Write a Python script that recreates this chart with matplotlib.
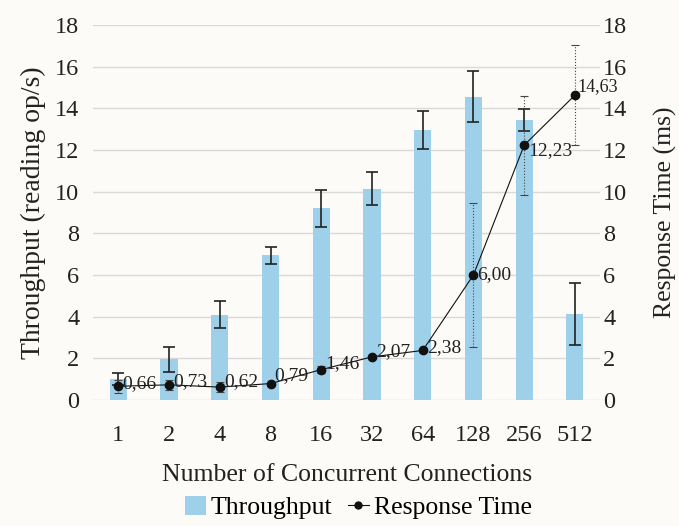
import matplotlib
matplotlib.use("Agg")
import matplotlib.pyplot as plt
import numpy as np
from matplotlib.lines import Line2D
from matplotlib.patches import Patch

plt.rcParams['font.family'] = ['Liberation Serif', 'DejaVu Serif']

categories = ["1", "2", "4", "8", "16", "32", "64", "128", "256", "512"]
throughput = [1.0, 1.95, 4.1, 6.95, 9.2, 10.15, 12.95, 14.55, 13.45, 4.13]
throughput_err = [0.3, 0.6, 0.65, 0.4, 0.9, 0.8, 0.9, 1.23, 0.52, 1.48]
response = [0.66, 0.73, 0.62, 0.79, 1.46, 2.07, 2.38, 6.00, 12.23, 14.63]
response_err = [0.3, 0.25, 0.25, 0.05, 0.15, 0.05, 0.05, 3.47, 2.38, 2.4]
response_labels = ["0,66", "0,73", "0,62", "0,79", "1,46", "2,07", "2,38", "6,00", "12,23", "14,63"]
label_offsets = [(3, 2), (3, 2), (3, 4), (3, 6), (3, 4), (3, 4), (3, 2), (3, 0), (3, -4), (2, 6)]
label_sizes = [14, 14, 14, 14, 14, 14, 14, 14, 14, 13]

bg = '#fcfbf8'
fig = plt.figure(figsize=(6.79, 5.26), dpi=100, facecolor=bg)
ax = fig.add_axes([0.137, 0.2395, 0.747, 0.713])
ax.set_facecolor(bg)
x = np.arange(len(categories))

ax.bar(x, throughput, width=0.34, color='#9fd0ea', zorder=2)
ax.errorbar(x, throughput, yerr=throughput_err, fmt='none', ecolor='#222222',
            elinewidth=1.2, capsize=4, capthick=1.2, zorder=3)
ax.set_ylim(0, 18)
ax.set_xlim(-0.5, len(categories) - 0.5)
ax.set_yticks(np.arange(0, 19, 2))
ax.grid(axis='y', color='#d9d9d9', lw=1, zorder=0)
ax.set_axisbelow(True)
for s in ax.spines.values():
    s.set_visible(False)
ax.tick_params(length=0, labelsize=17.5, colors='#222222')
ax.tick_params(axis='y', pad=10)
ax.set_xticks(x)
ax.set_xticklabels(categories)
ax.tick_params(axis='x', pad=18)
ax.set_ylabel("Throughput (reading op/s)", fontsize=20, color='#222222', labelpad=6)
ax.set_xlabel("Number of Concurrent Connections", fontsize=18.5, color='#222222', labelpad=13)

ax2 = ax.twinx()
ax2.set_ylim(0, 18)
ax2.set_yticks(np.arange(0, 19, 2))
for s in ax2.spines.values():
    s.set_visible(False)
ax2.tick_params(length=0, labelsize=17.5, colors='#222222', pad=2)
ax2.set_ylabel("Response Time (ms)", fontsize=18.5, color='#222222', labelpad=19)

eb = ax2.errorbar(x, response, yerr=response_err, fmt='none', ecolor='#444444',
                  elinewidth=0.8, capsize=3, capthick=0.8, zorder=3)
for lc in eb[2]:
    lc.set_linestyle(':')
ax2.plot(x, response, color='#111111', lw=0.8, marker='o', ms=6, zorder=4)
for xi, yi, lab, off, fs in zip(x, response, response_labels, label_offsets, label_sizes):
    ax2.annotate(lab, (xi, yi), xytext=off, textcoords='offset points',
                 ha='left', va='center', fontsize=fs, color='#222222', zorder=5)

handles = [Patch(facecolor='#9fd0ea', edgecolor='none'),
           Line2D([0], [0], color='#111111', lw=0.8, marker='o', ms=5)]
fig.legend(handles, ["Throughput", "Response Time"], loc='center',
           bbox_to_anchor=(0.528, 0.035), ncol=2, frameon=False, fontsize=18.5,
           handlelength=0.8, handleheight=0.8, handletextpad=0.2, columnspacing=0.6)

fig.savefig("out.png", dpi=100, facecolor=bg)
